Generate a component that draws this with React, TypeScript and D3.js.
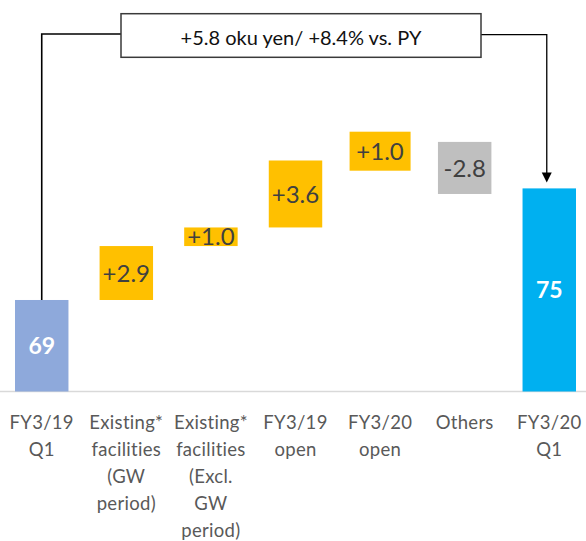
import React from "react";
import * as d3 from "d3";

// Category axis labels, one array of lines per column
const categoryLines: string[][] = [
  ["FY3/19", "Q1"],
  ["Existing*", "facilities", "(GW", "period)"],
  ["Existing*", "facilities", "(Excl.", "GW", "period)"],
  ["FY3/19", "open"],
  ["FY3/20", "open"],
  ["Others"],
  ["FY3/20", "Q1"],
];
const categories = categoryLines.map((l) => l.join(" "));

// Totals (oku yen) and the bridge steps between them
const startValue = 69;
const endValue = 75;
const steps = [2.9, 1.0, 3.6, 1.0, -2.8];
const summaryText = "+5.8 oku yen/ +8.4% vs. PY";

const W = 586;
const H = 541;

const COLORS = {
  start: "#8EA9DB",
  end: "#00B0F0",
  up: "#FFC000",
  down: "#BFBFBF",
  valueText: "#404040",
  axisText: "#595959",
  axis: "#D9D9D9",
  frame: "#3A3A3A",
};

const FONT = "Lato, 'Open Sans', sans-serif";

// plain hyphen for negative numbers
const locale = d3.formatLocale({
  decimal: ".",
  thousands: ",",
  grouping: [3],
  currency: ["", ""],
  minus: "-",
});

export default function App() {
  const x = d3
    .scaleBand<string>()
    .domain(categories)
    .range([15, 576])
    .paddingInner(0.368)
    .paddingOuter(0);

  const y = d3.scaleLinear().domain([64.08, 78]).range([391.5, 132.6]);

  const bw = x.bandwidth();
  const cx = (i: number) => (x(categories[i]) as number) + bw / 2;
  const fmt = locale.format("+.1f");

  // cumulative positions for the floating step bars
  let running = startValue;
  const stepBars = steps.map((v, i) => {
    const from = running;
    const to = running + v;
    running = to;
    return { v, from, to, cat: categories[i + 1], i: i + 1 };
  });

  const baseY = y(64.08);
  const startTop = y(startValue);
  const endTop = y(endValue);
  const lastIdx = categories.length - 1;

  // summary bracket geometry
  const boxX0 = 121;
  const boxX1 = 481;
  const boxY0 = 13.7;
  const boxY1 = 57.3;
  const bracketY = 34;
  const arrowX = cx(lastIdx) - 2.5;
  const arrowTip = endTop - 6;

  return (
    <svg
      width={W}
      height={H}
      style={{ position: "absolute", left: 0, top: 0, background: "#fff" }}
      fontFamily={FONT}
    >
      {/* baseline */}
      <line x1={0} x2={W} y1={baseY} y2={baseY} stroke={COLORS.axis} strokeWidth={1.5} />

      {/* start total */}
      <rect
        x={x(categories[0])}
        y={startTop}
        width={bw}
        height={baseY - startTop}
        fill={COLORS.start}
      />
      <text
        x={cx(0)}
        y={(startTop + baseY) / 2}
        dy="0.36em"
        textAnchor="middle"
        fill="#fff"
        fontWeight="bold"
        fontSize={23}
      >
        {d3.format(".0f")(startValue)}
      </text>

      {/* step bars */}
      {stepBars.map((s) => {
        const top = y(Math.max(s.from, s.to));
        const bot = y(Math.min(s.from, s.to));
        const mid = (top + bot) / 2;
        const fill = s.v >= 0 ? COLORS.up : COLORS.down;
        const padded = s.cat === "FY3/20 open";
        return (
          <g key={s.cat}>
            <rect x={x(s.cat)} y={top} width={bw} height={bot - top} fill={fill} />
            {padded && (
              <rect x={cx(s.i) - 30.5} y={mid - 19.5} width={61} height={39} fill={fill} />
            )}
            <text
              x={cx(s.i)}
              y={mid}
              dy="0.36em"
              textAnchor="middle"
              fill={COLORS.valueText}
              fontSize={24}
            >
              {fmt(s.v)}
            </text>
          </g>
        );
      })}

      {/* end total */}
      <rect
        x={x(categories[lastIdx])}
        y={endTop}
        width={bw}
        height={baseY - endTop}
        fill={COLORS.end}
      />
      <text
        x={cx(lastIdx)}
        y={(endTop + baseY) / 2}
        dy="0.36em"
        textAnchor="middle"
        fill="#fff"
        fontWeight="bold"
        fontSize={23}
      >
        {d3.format(".0f")(endValue)}
      </text>

      {/* summary bracket with arrow */}
      <path
        d={`M${cx(0)},${startTop} V${bracketY} H${boxX0}`}
        fill="none"
        stroke="#000"
        strokeWidth={1.6}
      />
      <path
        d={`M${boxX1},${bracketY + 0.7} H${arrowX} V${arrowTip - 9}`}
        fill="none"
        stroke="#000"
        strokeWidth={1.3}
      />
      <path
        d={`M${arrowX - 5},${arrowTip - 10} L${arrowX + 5},${arrowTip - 10} L${arrowX},${arrowTip} Z`}
        fill="#000"
      />
      <rect
        x={boxX0}
        y={boxY0}
        width={boxX1 - boxX0}
        height={boxY1 - boxY0}
        fill="#fff"
        stroke={COLORS.frame}
        strokeWidth={1.5}
      />
      <text
        x={(boxX0 + boxX1) / 2}
        y={45}
        textAnchor="middle"
        fill="#111"
        fontSize={20}
      >
        {summaryText}
      </text>

      {/* category labels */}
      {categoryLines.map((lines, i) => (
        <text
          key={categories[i]}
          x={cx(i)}
          textAnchor="middle"
          fill={COLORS.axisText}
          fontSize={18.5}
          letterSpacing={0.3}
        >
          {lines.map((ln, j) => (
            <tspan key={j} x={cx(i)} y={428.5 + j * 27.2}>
              {ln}
            </tspan>
          ))}
        </text>
      ))}
    </svg>
  );
}
